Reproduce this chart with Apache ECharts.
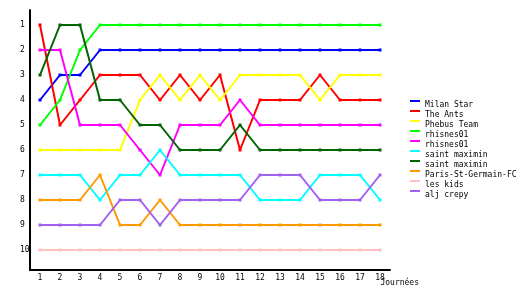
<!DOCTYPE html>
<html>
<head>
<meta charset="utf-8">
<script src="https://cdn.jsdelivr.net/npm/echarts@6/dist/echarts.min.js"></script>
<style>html,body{margin:0;padding:0;background:#fff;}#c{width:530px;height:300px;}</style>
</head>
<body>
<div id="c"></div>
<script>
const rounds = ['1','2','3','4','5','6','7','8','9','10','11','12','13','14','15','16','17','18'];
const yTicks = [1,2,3,4,5,6,7,8,9,10];
const teamNames = ['Milan Star','The Ants','Phebus Team','rhisnes01','rhisnes01','saint maximin','saint maximin','Paris-St-Germain-FC','les kids','alj crepy'];
const teamColors = ['#0000ff','#ff0000','#ffff00','#00ff00','#ff00ff','#00ffff','#006400','#ff9900','#ffc0c0','#a060f0'];
const milanStar   = [4,3,3,2,2,2,2,2,2,2,2,2,2,2,2,2,2,2];
const theAnts     = [1,5,4,3,3,3,4,3,4,3,6,4,4,4,3,4,4,4];
const phebusTeam  = [6,6,6,6,6,4,3,4,3,4,3,3,3,3,4,3,3,3];
const rhisnesA    = [5,4,2,1,1,1,1,1,1,1,1,1,1,1,1,1,1,1];
const rhisnesB    = [2,2,5,5,5,6,7,5,5,5,4,5,5,5,5,5,5,5];
const saintMaxA   = [7,7,7,8,7,7,6,7,7,7,7,8,8,8,7,7,7,8];
const saintMaxB   = [3,1,1,4,4,5,5,6,6,6,5,6,6,6,6,6,6,6];
const psg         = [8,8,8,7,9,9,8,9,9,9,9,9,9,9,9,9,9,9];
const lesKids     = [10,10,10,10,10,10,10,10,10,10,10,10,10,10,10,10,10,10];
const aljCrepy    = [9,9,9,9,8,8,9,8,8,8,8,7,7,7,8,8,8,7];
const allData = [milanStar,theAnts,phebusTeam,rhisnesA,rhisnesB,saintMaxA,saintMaxB,psg,lesKids,aljCrepy];

const font = 'DejaVu Sans Mono';
const series = allData.map((d,i)=>({
  name: teamNames[i] + (i===4||i===6 ? '\u200b' : ''),
  type: 'line',
  data: d,
  color: teamColors[i],
  lineStyle: {width: 2, color: teamColors[i]},
  itemStyle: {color: teamColors[i]},
  symbol: 'rect',
  symbolSize: 3,
  showSymbol: true,
  animation: false
}));

const chart = echarts.init(document.getElementById('c'), null, {renderer: 'canvas'});
chart.setOption({
  animation: false,
  backgroundColor: '#ffffff',
  grid: {left: 30, right: 140, top: 10, bottom: 30, containLabel: false},
  xAxis: {
    type: 'category',
    data: rounds,
    boundaryGap: true,
    axisLine: {lineStyle: {color: '#000', width: 2}},
    axisTick: {show: false},
    axisLabel: {color: '#000', fontFamily: font, fontSize: 8, margin: 4},
    splitLine: {show: false},
    name: 'Journées',
    nameLocation: 'end',
    nameGap: 29,
    nameMoveOverlap: false,
    nameTextStyle: {color: '#000', fontFamily: font, fontSize: 8, align: 'right', verticalAlign: 'top', padding: [9,0,0,0]}
  },
  yAxis: {
    type: 'value',
    inverse: true,
    min: 0.4,
    max: 10.8,
    axisLine: {show: true, lineStyle: {color: '#000', width: 2}},
    axisTick: {show: false},
    splitLine: {show: false},
    axisLabel: {color: '#000', fontFamily: font, fontSize: 8, align: 'left', margin: 10, customValues: yTicks}
  },
  legend: {
    orient: 'vertical',
    left: 410,
    top: 100,
    padding: 0,
    itemGap: 1,
    itemWidth: 10,
    itemHeight: 9,
    icon: 'path://M0,0H10V2H0Z M0,9H10V9H0Z',
    itemStyle: {borderWidth: 0},
    data: series.map(s=>s.name),
    textStyle: {color: '#000', fontFamily: font, fontSize: 8, lineHeight: 8}
  },
  series: series
});
</script>
</body>
</html>
